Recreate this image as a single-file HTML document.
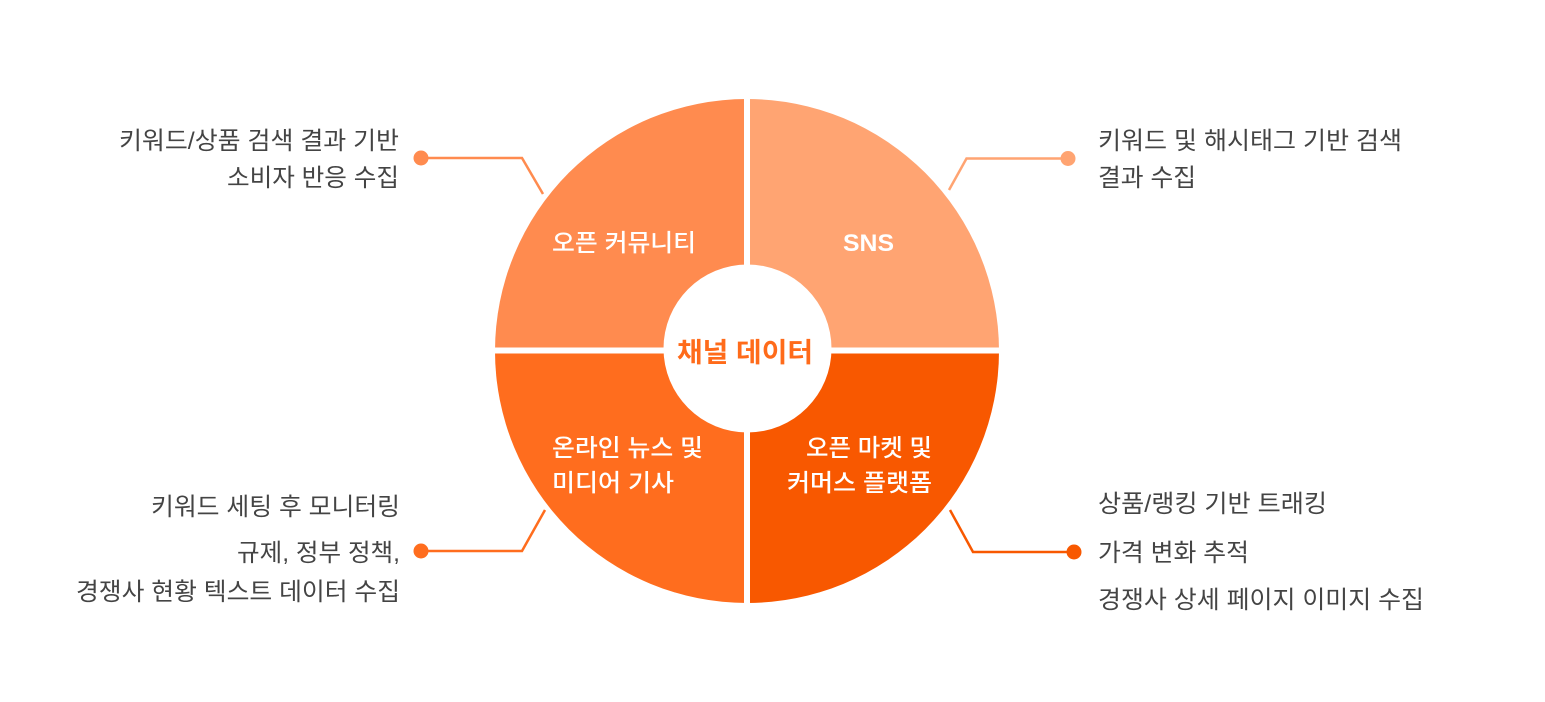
<!DOCTYPE html>
<html>
<head>
<meta charset="utf-8">
<style>
  html,body{margin:0;padding:0;background:#fff;}
  body{width:1545px;height:702px;overflow:hidden;}
  svg{display:block;}
  .side{font-family:"Liberation Sans","Noto Sans CJK KR",sans-serif;font-size:24.5px;fill:#444444;}
  .q{font-family:"Liberation Sans","Noto Sans CJK KR",sans-serif;font-size:24px;fill:#ffffff;font-weight:500;}
</style>
</head>
<body>
<svg width="1545" height="702" viewBox="0 0 1545 702" xmlns="http://www.w3.org/2000/svg">
  <rect width="1545" height="702" fill="#ffffff"/>
  <!-- quadrants -->
  <path d="M747,351 L495,351 A252,252 0 0 1 747,99 Z" fill="#FF8B4F"/>
  <path d="M747,351 L747,99 A252,252 0 0 1 999,351 Z" fill="#FFA472"/>
  <path d="M747,351 L999,351 A252,252 0 0 1 747,603 Z" fill="#F85800"/>
  <path d="M747,351 L747,603 A252,252 0 0 1 495,351 Z" fill="#FF6D1E"/>
  <!-- gaps -->
  <rect x="744" y="90" width="6" height="522" fill="#ffffff"/>
  <rect x="485" y="347.5" width="525" height="6" fill="#ffffff"/>
  <!-- inner circle -->
  <circle cx="747.5" cy="348.5" r="84" fill="#ffffff"/>

  <!-- connectors -->
  <polyline points="421,158 522,158 543,194" fill="none" stroke="#FF8B4F" stroke-width="2.5"/>
  <circle cx="421" cy="158" r="7.5" fill="#FF8B4F"/>

  <polyline points="1068,158.5 966.5,158.5 949,190" fill="none" stroke="#FFA472" stroke-width="2.5"/>
  <circle cx="1068" cy="158.5" r="7.5" fill="#FFA472"/>

  <polyline points="421,551 522,551 545,510" fill="none" stroke="#FF6D1E" stroke-width="2.5"/>
  <circle cx="421" cy="551" r="7.5" fill="#FF6D1E"/>

  <polyline points="1074,552 973,552 950,510" fill="none" stroke="#F85800" stroke-width="2.5"/>
  <circle cx="1074" cy="552" r="7.5" fill="#F85800"/>

  <!-- center label -->
  <text x="745" y="362" text-anchor="middle" font-family="'Liberation Sans','Noto Sans CJK KR',sans-serif" font-size="27" font-weight="700" fill="#FF6B1A" textLength="136" lengthAdjust="spacingAndGlyphs">채널 데이터</text>

  <!-- quadrant labels -->
  <text class="q" x="552" y="251" textLength="144" lengthAdjust="spacingAndGlyphs">오픈 커뮤니티</text>
  <text x="868.5" y="251" text-anchor="middle" font-family="'Liberation Sans',sans-serif" font-size="24" font-weight="700" fill="#ffffff" textLength="51" lengthAdjust="spacingAndGlyphs">SNS</text>
  <text class="q" x="552" y="456" textLength="151" lengthAdjust="spacingAndGlyphs">온라인 뉴스 및</text>
  <text class="q" x="552" y="491" textLength="122" lengthAdjust="spacingAndGlyphs">미디어 기사</text>
  <text class="q" x="932" y="456" text-anchor="end" textLength="126" lengthAdjust="spacingAndGlyphs">오픈 마켓 및</text>
  <text class="q" x="932" y="491" text-anchor="end" textLength="145" lengthAdjust="spacingAndGlyphs">커머스 플랫폼</text>

  <!-- left side text -->
  <text class="side" x="399" y="149" text-anchor="end" textLength="280" lengthAdjust="spacingAndGlyphs">키워드/상품 검색 결과 기반</text>
  <text class="side" x="399" y="186" text-anchor="end" textLength="172" lengthAdjust="spacingAndGlyphs">소비자 반응 수집</text>

  <text class="side" x="400" y="515" text-anchor="end" textLength="249" lengthAdjust="spacingAndGlyphs">키워드 세팅 후 모니터링</text>
  <text class="side" x="400" y="561" text-anchor="end" textLength="163" lengthAdjust="spacingAndGlyphs">규제, 정부 정책,</text>
  <text class="side" x="400" y="600" text-anchor="end" textLength="324" lengthAdjust="spacingAndGlyphs">경쟁사 현황 텍스트 데이터 수집</text>

  <!-- right side text -->
  <text class="side" x="1098" y="149" textLength="304" lengthAdjust="spacingAndGlyphs">키워드 및 해시태그 기반 검색</text>
  <text class="side" x="1098" y="186" textLength="98" lengthAdjust="spacingAndGlyphs">결과 수집</text>

  <text class="side" x="1098" y="512" textLength="229" lengthAdjust="spacingAndGlyphs">상품/랭킹 기반 트래킹</text>
  <text class="side" x="1098" y="561" textLength="151" lengthAdjust="spacingAndGlyphs">가격 변화 추적</text>
  <text class="side" x="1098" y="608" textLength="326" lengthAdjust="spacingAndGlyphs">경쟁사 상세 페이지 이미지 수집</text>
</svg>
</body>
</html>
